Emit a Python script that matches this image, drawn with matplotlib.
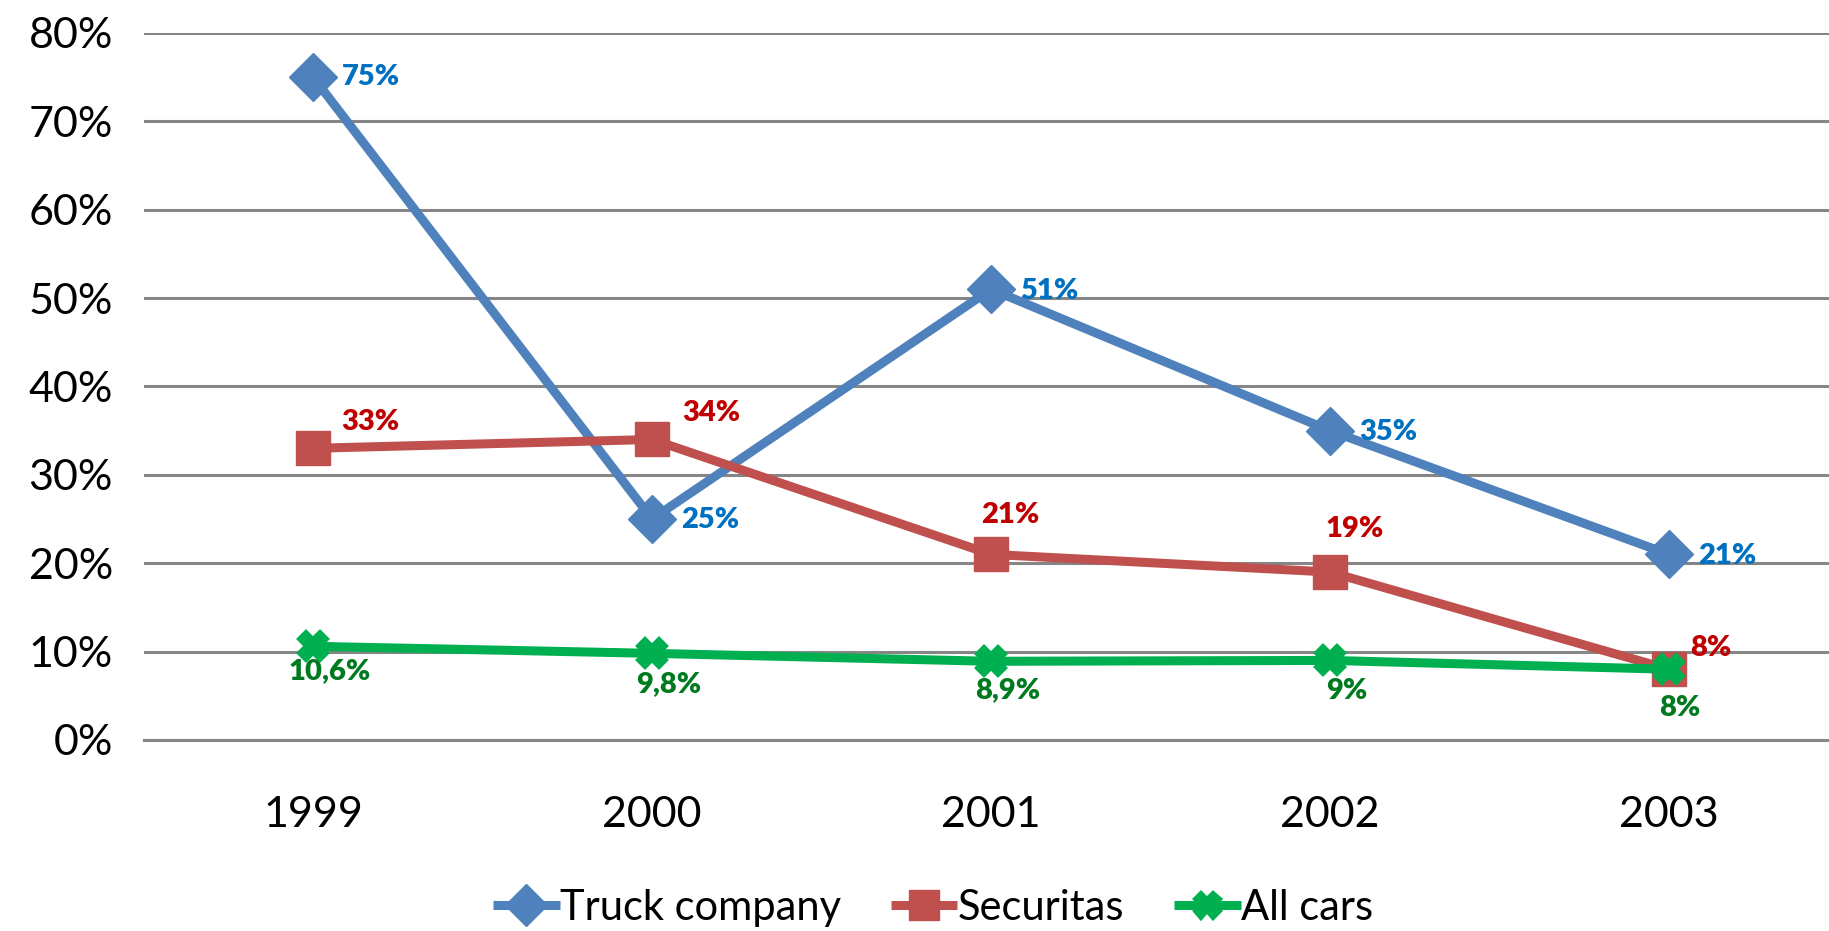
import matplotlib
matplotlib.use("Agg")
import matplotlib.pyplot as plt
from matplotlib.ticker import FuncFormatter

# data
years = ["1999", "2000", "2001", "2002", "2003"]
truck = [75, 25, 51, 35, 21]
securitas = [33, 34, 21, 19, 8]
all_cars = [10.6, 9.8, 8.9, 9, 8]

# label offsets (points) per point
truck_off = [(42, 0), (42, -1), (42, -1), (42, -1), (42, -1)]
sec_off = [(41, 19), (43, 19), (14, 28), (18, 31), (30, 15)]
cars_off = [(12, -18), (12, -22), (12, -21), (12, -22), (8, -28)]

plt.rcParams["font.family"] = ["Lato", "DejaVu Sans"]


def fmt(v):
    return "{:g}".format(v).replace(".", ",") + "%"


def plot_series(ax, x, vals, color, marker, msize, label, lab_color, offsets):
    ax.plot(x, vals, color=color, lw=6.5, marker=marker, ms=msize,
            mfc=color, mec=color, mew=3 if marker == "X" else 1,
            solid_capstyle="butt", label=label)
    for xi, v, (dx, dy) in zip(x, vals, offsets):
        ax.annotate(fmt(v), (xi, v), xytext=(dx, dy), textcoords="offset points",
                    ha="center", va="center", fontsize=21, fontweight="heavy",
                    color=lab_color)


fig = plt.figure(figsize=(18.29, 9.31), dpi=100)
# plot area runs past the right edge in the original
ax = fig.add_axes([0.0785, 0.2052, 0.9267, 0.7594])

x = list(range(len(years)))
plot_series(ax, x, truck, "#4F81BD", "D", 24, "Truck company", "#0070C0", truck_off)
plot_series(ax, x, securitas, "#C0504D", "s", 24, "Securitas", "#C00000", sec_off)
plot_series(ax, x, all_cars, "#00B050", "X", 20, "All cars", "#007A1E", cars_off)

ax.set_xlim(-0.5, 4.5)
ax.set_ylim(0, 80)
ax.set_yticks(range(0, 81, 10))
ax.yaxis.set_major_formatter(FuncFormatter(lambda v, p: "{:d}%".format(int(v))))
ax.set_xticks(x)
ax.set_xticklabels(years)
ax.tick_params(axis="both", length=0, labelsize=31)
ax.tick_params(axis="y", pad=22)
ax.tick_params(axis="x", pad=40)
ax.grid(axis="y", color="#868686", lw=2.2)
ax.set_axisbelow(True)
for s in ["top", "right", "left"]:
    ax.spines[s].set_visible(False)
ax.spines["bottom"].set_color("#868686")
ax.spines["bottom"].set_linewidth(2.2)

fig.legend(loc="center", bbox_to_anchor=(0.51, 0.025), ncol=3, frameon=False,
           fontsize=30, handlelength=1.6, handletextpad=0.0, columnspacing=1.2,
           markerscale=0.9)

fig.savefig("out.png", dpi=100)
